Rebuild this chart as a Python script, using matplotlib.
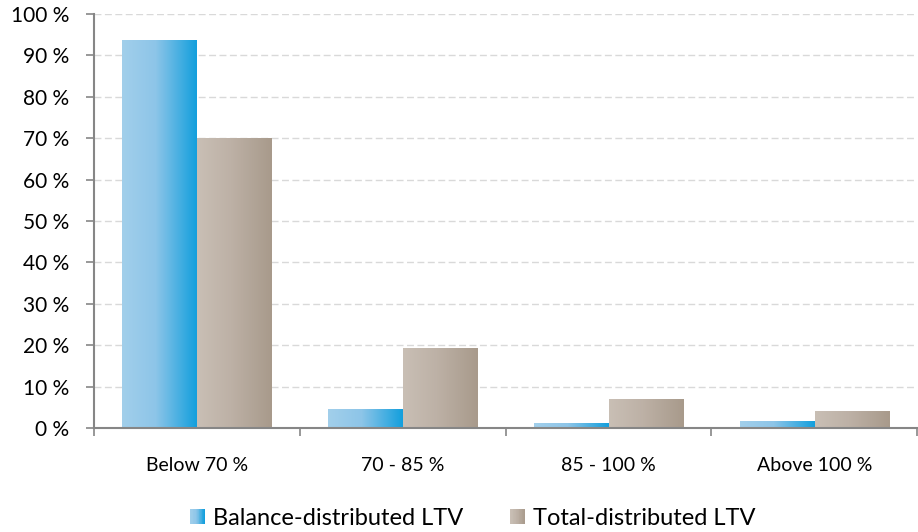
import numpy as np
import matplotlib
matplotlib.use("Agg")
import matplotlib.pyplot as plt
from matplotlib.colors import LinearSegmentedColormap
from matplotlib.patches import Rectangle
from matplotlib.legend_handler import HandlerBase

plt.rcParams['font.family'] = ['Lato', 'DejaVu Sans']

categories = ["Below 70 %", "70 - 85 %", "85 - 100 %", "Above 100 %"]
balance_ltv = [93.7, 4.4, 1.0, 1.5]
total_ltv = [70.0, 19.1, 7.0, 3.9]
yticks = list(range(0, 101, 10))
ytick_labels = [f"{v} %" for v in yticks]
series_names = ["Balance-distributed LTV", "Total-distributed LTV"]

# horizontal gradients like the office-style bars
blue_cmap = LinearSegmentedColormap.from_list(
    "blue", [(0, "#A2CFEB"), (0.45, "#8DC5E8"), (1, "#139FDD")])
gray_cmap = LinearSegmentedColormap.from_list(
    "gray", [(0, "#C9BFB5"), (0.45, "#BDB1A6"), (1, "#A89A8B")])


class GradientSquare(HandlerBase):
    # legend key drawn as thin vertical strips so it shows the gradient too
    def __init__(self, cmap, n=20):
        super().__init__()
        self.cmap = cmap
        self.n = n

    def create_artists(self, legend, orig_handle, xdescent, ydescent,
                       width, height, fontsize, trans):
        side = min(width, height * 1.1)
        y0 = -ydescent + (height - side) / 2
        step = side / self.n
        arts = []
        for i in range(self.n):
            r = Rectangle((-xdescent + i * step, y0), step * 1.05, side,
                          facecolor=self.cmap(i / (self.n - 1)),
                          edgecolor="none", transform=trans)
            arts.append(r)
        return arts


fig = plt.figure(figsize=(9.18, 5.32), dpi=100)
ax = fig.add_axes([0.1024, 0.1955, 0.8966, 0.7782])

x = np.arange(len(categories))
w = 0.36
off = 0.182
b1 = ax.bar(x - off, balance_ltv, w, color="none", edgecolor="none", zorder=3)
b2 = ax.bar(x + off, total_ltv, w, color="none", edgecolor="none", zorder=3)

grad = np.linspace(0, 1, 256).reshape(1, -1)
for bars, cmap in ((b1, blue_cmap), (b2, gray_cmap)):
    for p in bars:
        x0, y0 = p.get_x(), p.get_y()
        ax.imshow(grad, cmap=cmap, aspect="auto", zorder=3,
                  extent=(x0, x0 + p.get_width(), y0, y0 + p.get_height()),
                  interpolation="bilinear")

ax.set_xlim(-0.5, len(categories) - 0.5)
ax.set_ylim(0, 100)
ax.set_yticks(yticks)
ax.set_yticklabels(ytick_labels)
ax.set_xticks(np.arange(len(categories) + 1) - 0.5, minor=False)
ax.set_xticklabels([""] * (len(categories) + 1))
ax.set_xticks(x, minor=True)
ax.set_xticklabels(categories, minor=True)

ax.grid(axis="y", color="#D9D9D9", linestyle=(0, (5, 2.5)), linewidth=1.0, zorder=0)
ax.set_axisbelow(True)
for s in ("top", "right"):
    ax.spines[s].set_visible(False)
for s in ("left", "bottom"):
    ax.spines[s].set_color("#868686")
    ax.spines[s].set_linewidth(1.5)
    ax.spines[s].set_zorder(5)

ax.tick_params(axis="y", length=6, width=1.2, color="#868686", pad=12,
               labelsize=15, labelcolor="black")
ax.tick_params(axis="x", which="major", length=6, width=1.2, color="#868686")
ax.tick_params(axis="x", which="minor", length=0, pad=21, labelsize=14,
               labelcolor="black")

h1 = Rectangle((0, 0), 1, 1)
h2 = Rectangle((0, 0), 1, 1)
fig.legend([h1, h2], series_names,
           handler_map={h1: GradientSquare(blue_cmap), h2: GradientSquare(gray_cmap)},
           loc="center", bbox_to_anchor=(0.515, 0.025), ncol=2, frameon=False,
           fontsize=17, handlelength=0.64, handleheight=0.6, handletextpad=0.34,
           columnspacing=2.0)

fig.savefig("out.png", dpi=100)
